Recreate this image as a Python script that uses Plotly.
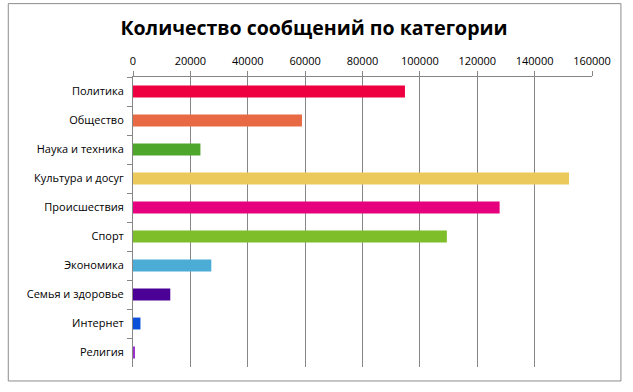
import plotly.graph_objects as go

categories = ["Политика", "Общество", "Наука и техника", "Культура и досуг", "Происшествия",
              "Спорт", "Экономика", "Семья и здоровье", "Интернет", "Религия"]
values = [94800, 58900, 23500, 152000, 127800, 109400, 27300, 13000, 2600, 500]
colors = ["#EE0040", "#E86A45", "#4EA72A", "#EBC95A", "#E6007E",
          "#7DBE2A", "#4BACD6", "#4B0096", "#0A50D8", "#9933CC"]
x_ticks = [0, 20000, 40000, 60000, 80000, 100000, 120000, 140000, 160000]

W, H = 633, 392
ml, mr, mt, mb = 132.5, 40.5, 77, 24.5
pw, ph = W - ml - mr, H - mt - mb

fig = go.Figure(go.Bar(
    x=values, y=categories, orientation="h",
    marker=dict(color=colors, line=dict(width=0)),
    width=0.41, hoverinfo="x+y",
))

fig.update_layout(
    width=W, height=H,
    margin=dict(l=ml, r=mr, t=mt, b=mb, autoexpand=False),
    paper_bgcolor="white", plot_bgcolor="white",
    showlegend=False,
    font=dict(family="Open Sans, DejaVu Sans, sans-serif", size=11, color="#000000"),
    title=dict(text="<b>Количество сообщений по категории</b>",
               x=(314 / W), xanchor="center", y=1 - 28 / H, yanchor="middle",
               font=dict(size=19.5, family="Open Sans, DejaVu Sans, sans-serif", color="#000000")),
)

fig.update_xaxes(
    side="top", range=[0, 160000], tickvals=x_ticks,
    ticktext=[str(v) for v in x_ticks],
    showgrid=True, gridcolor="#868686", gridwidth=1,
    showline=True, linecolor="#868686", linewidth=1,
    ticks="outside", ticklen=5, tickcolor="#868686",
    zeroline=False, tickfont=dict(size=11), ticklabelstandoff=2,
)
fig.update_yaxes(
    categoryorder="array", categoryarray=categories, autorange="reversed",
    showgrid=False, showline=True, linecolor="#868686", linewidth=1,
    ticks="outside", ticklen=5, tickcolor="#868686", tickson="boundaries",
    tickfont=dict(size=11), ticklabelstandoff=6,
)

# outer chart frame
def px_x(p):
    return (p - ml) / pw

def px_y(p):
    return 1 - (p - mt) / ph

fig.add_shape(type="rect", xref="paper", yref="paper",
              x0=px_x(7.5), x1=px_x(621.5), y0=px_y(381.5), y1=px_y(3.5),
              line=dict(color="#8C8C8C", width=1), fillcolor="rgba(0,0,0,0)", layer="below")

fig.write_html("out.html", config={"displayModeBar": False},
               post_script="document.body.style.margin='0px';document.body.style.overflow='hidden';")
